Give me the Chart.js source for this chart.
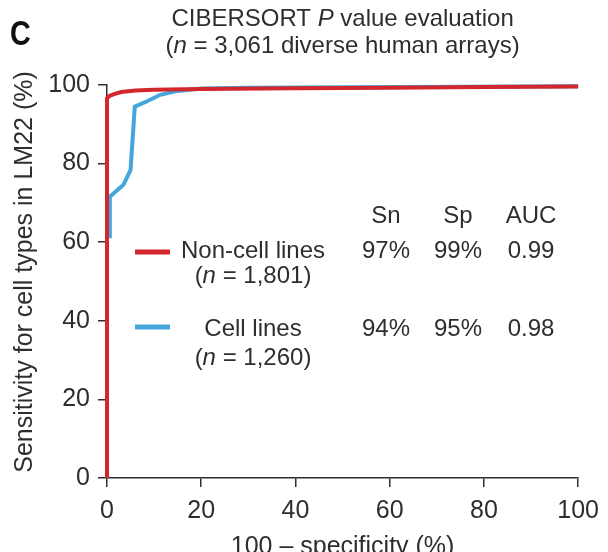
<!DOCTYPE html>
<html>
<head>
<meta charset="utf-8">
<script src="https://cdn.jsdelivr.net/npm/chart.js@4.4.1/dist/chart.umd.min.js"></script>
<style>
  html, body { margin: 0; padding: 0; background: #fff; }
  canvas { display: block; }
</style>
</head>
<body>
<canvas id="rocChart" width="608" height="552"></canvas>
<script>
// ROC curves, x = 100 - specificity (%), y = sensitivity (%)
const nonCellX = [0, 0, 0.5, 1.5, 3, 6, 10, 20, 40, 60, 80, 100];
const nonCellY = [0, 96.6, 97.2, 97.7, 98.2, 98.6, 98.8, 99.0, 99.2, 99.3, 99.5, 99.6];
const cellX = [0.6, 0.6, 3.5, 5.0, 5.4, 5.9, 8.4, 11.3, 15, 20, 30, 50, 100];
const cellY = [61, 71.6, 74.6, 78.4, 85.6, 94.5, 95.8, 97.5, 98.5, 99.1, 99.3, 99.4, 99.7];

const xTicks = [0, 20, 40, 60, 80, 100];
const yTicks = [0, 20, 40, 60, 80, 100];

// legend table
const seriesNames = ['Non-cell lines', 'Cell lines'];
const seriesN = ['1,801', '1,260'];
const statHeaders = ['Sn', 'Sp', 'AUC'];
const snValues = ['97%', '94%'];
const spValues = ['99%', '95%'];
const aucValues = ['0.99', '0.98'];

const RED = '#d3262d';
const BLUE = '#45a6dc';
const INK = '#2e2e2e';
const FONT = '"Liberation Sans", Arial, Helvetica, sans-serif';

function toPoints(xs, ys) {
    return xs.map((x, i) => ({ x: x, y: ys[i] }));
}

// draws a line of text where some parts are italic, centred on cx
function drawRich(ctx, parts, cx, y, size) {
    let total = 0;
    parts.forEach(p => {
        ctx.font = (p[1] ? 'italic ' : '') + size + 'px ' + FONT;
        total += ctx.measureText(p[0]).width;
    });
    let x = cx - total / 2;
    ctx.textAlign = 'left';
    parts.forEach(p => {
        ctx.font = (p[1] ? 'italic ' : '') + size + 'px ' + FONT;
        ctx.fillText(p[0], x, y);
        x += ctx.measureText(p[0]).width;
    });
}

const decorations = {
    id: 'decorations',
    afterDraw(chart) {
        const ctx = chart.ctx;
        const area = chart.chartArea;
        const midX = (area.left + area.right) / 2;
        ctx.save();
        ctx.fillStyle = INK;
        ctx.textBaseline = 'alphabetic';

        // panel letter
        ctx.save();
        ctx.translate(10, 45);
        ctx.scale(0.82, 1);
        ctx.font = 'bold 35px ' + FONT;
        ctx.fillStyle = '#111';
        ctx.textAlign = 'left';
        ctx.fillText('C', 0, 0);
        ctx.restore();

        // title
        drawRich(ctx, [['CIBERSORT ', false], ['P', true], [' value evaluation', false]], midX, 26, 24);
        drawRich(ctx, [['(', false], ['n', true], [' = 3,061 diverse human arrays)', false]], midX, 53, 24);

        // axis titles
        ctx.font = '25px ' + FONT;
        ctx.textAlign = 'center';
        ctx.fillText('100 \u2013 specificity (%)', midX, 554);
        ctx.save();
        ctx.translate(32, 272);
        ctx.rotate(-Math.PI / 2);
        ctx.fillText('Sensitivity for cell types in LM22 (%)', 0, 0);
        ctx.restore();

        // legend table
        const colX = [386, 458, 531];
        const lineY = [252, 327];
        const nameY = [258, 336];
        const nY = [283, 365];
        ctx.font = '24px ' + FONT;
        ctx.textAlign = 'center';
        statHeaders.forEach((h, i) => ctx.fillText(h, colX[i], 223));
        [RED, BLUE].forEach((c, i) => {
            ctx.strokeStyle = c;
            ctx.lineWidth = 5;
            ctx.beginPath();
            ctx.moveTo(135, lineY[i]);
            ctx.lineTo(170, lineY[i]);
            ctx.stroke();
            ctx.font = '24px ' + FONT;
            ctx.textAlign = 'center';
            ctx.fillText(seriesNames[i], 253, nameY[i]);
            ctx.fillText(snValues[i], colX[0], nameY[i]);
            ctx.fillText(spValues[i], colX[1], nameY[i]);
            ctx.fillText(aucValues[i], colX[2], nameY[i]);
            drawRich(ctx, [['(', false], ['n', true], [' = ' + seriesN[i] + ')', false]], 253, nY[i], 24);
        });
        ctx.restore();
    }
};

const tickFont = { family: FONT, size: 25 };

new Chart(document.getElementById('rocChart'), {
    type: 'scatter',
    data: {
        datasets: [{
            label: seriesNames[0],
            data: toPoints(nonCellX, nonCellY),
            showLine: true,
            borderColor: RED,
            borderWidth: 4,
            pointRadius: 0,
            tension: 0,
            clip: false,
            order: 0
        }, {
            label: seriesNames[1],
            data: toPoints(cellX, cellY),
            showLine: true,
            borderColor: BLUE,
            borderWidth: 4,
            pointRadius: 0,
            tension: 0,
            clip: false,
            order: 1
        }]
    },
    options: {
        responsive: false,
        animation: false,
        devicePixelRatio: 1,
        layout: { padding: { top: 85, right: 29, left: 0, bottom: 0 } },
        plugins: {
            legend: { display: false },
            tooltip: { enabled: false }
        },
        scales: {
            x: {
                type: 'linear',
                min: 0,
                max: 100,
                afterBuildTicks: s => { s.ticks = xTicks.map(v => ({ value: v })); },
                afterFit: s => { s.height = 74; },
                ticks: { font: tickFont, color: INK, padding: 9, maxRotation: 0 },
                grid: { drawOnChartArea: false, drawTicks: true, tickLength: 9, color: INK, lineWidth: 1.5 },
                border: { color: INK, width: 1.5 }
            },
            y: {
                type: 'linear',
                min: 0,
                max: 100,
                afterBuildTicks: s => { s.ticks = yTicks.map(v => ({ value: v })); },
                afterFit: s => { s.width = 107; },
                ticks: { font: tickFont, color: INK, padding: 8 },
                grid: { drawOnChartArea: false, drawTicks: true, tickLength: 9, color: INK, lineWidth: 1.5 },
                border: { color: INK, width: 1.5 }
            }
        }
    },
    plugins: [decorations]
});
</script>
</body>
</html>
